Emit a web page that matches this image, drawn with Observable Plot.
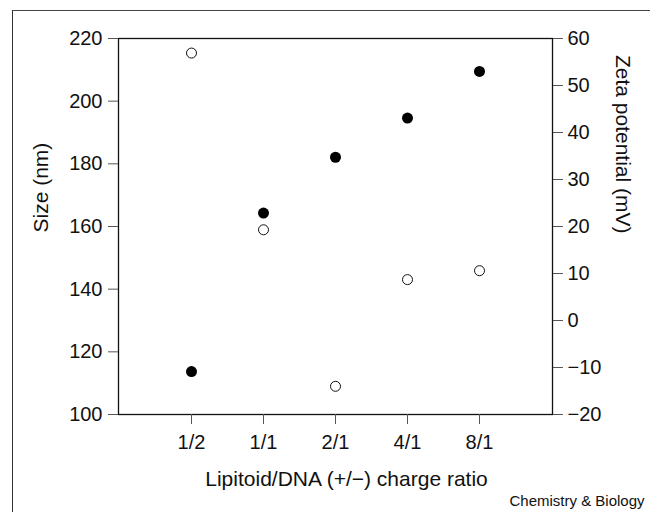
<!DOCTYPE html>
<html>
<head>
<meta charset="utf-8">
<script src="https://cdn.jsdelivr.net/npm/d3@7"></script>
<script src="https://cdn.jsdelivr.net/npm/@observablehq/plot@0.6"></script>
<style>
  html, body { margin: 0; padding: 0; background: #fff; overflow: hidden; }
  #wrap { position: relative; width: 650px; height: 512px; }
  #border { position: absolute; left: 12px; top: 10px; width: 700px; height: 600px;
            border-left: 1.5px solid #333; border-top: 1.5px solid #444; pointer-events: none; }
  svg { font-family: "Liberation Sans", Arial, Helvetica, sans-serif; }
</style>
</head>
<body>
<div id="wrap"><div id="border"></div></div>
<script>
// Data
const ratios = ["1/2", "1/1", "2/1", "4/1", "8/1"];
const sizeNm = [113.7, 164.3, 182.1, 194.6, 209.5];   // filled circles, left axis
const zetaMv = [56.9, 19.3, -14.0, 8.7, 10.6];        // open circles, right axis
const sizeTicks = [100, 120, 140, 160, 180, 200, 220];
const zetaTicks = [-20, -10, 0, 10, 20, 30, 40, 50, 60];

// map zeta (mV) onto the size scale: [-20, 60] -> [100, 220]
const zToSize = z => 100 + (z + 20) * 1.5;
const sizeToZ = s => Math.round((s - 100) / 1.5 - 20);
const fmt = v => (v < 0 ? "\u2212" + Math.abs(v) : String(v));

const sizeData = ratios.map((r, i) => ({ratio: r, value: sizeNm[i]}));
const zetaData = ratios.map((r, i) => ({ratio: r, value: zToSize(zetaMv[i])}));

const chart = Plot.plot({
  width: 650,
  height: 512,
  marginLeft: 118,
  marginRight: 98,
  marginTop: 38,
  marginBottom: 98,
  style: {fontFamily: '"Liberation Sans", Arial, Helvetica, sans-serif', fontSize: "20px", color: "#111"},
  x: {type: "point", domain: ratios, padding: 1},
  y: {domain: [100, 220]},
  marks: [
    Plot.frame({stroke: "#111", strokeWidth: 1.3}),
    Plot.axisY({ticks: sizeTicks, tickSize: 10, tickPadding: 6, label: null, fontSize: 20, stroke: "#555"}),
    Plot.axisY({anchor: "right", ticks: zetaTicks.map(zToSize), tickFormat: d => fmt(sizeToZ(d)),
                tickSize: 10, tickPadding: 5, label: null, fontSize: 20, stroke: "#555"}),
    Plot.axisX({tickSize: 10, tickPadding: 10, label: null, fontSize: 20, stroke: "#555"}),
    Plot.text(["Size (nm)"], {frameAnchor: "left", rotate: -90, dx: -77, dy: 6, fontSize: 21, fill: "#111"}),
    Plot.text(["Zeta potential (mV)"], {frameAnchor: "right", rotate: 90, dx: 70, dy: 7, fontSize: 21, fill: "#111"}),
    Plot.text(["Lipitoid/DNA (+/\u2212) charge ratio"], {frameAnchor: "bottom", dx: 11, dy: 71, fontSize: 21, fill: "#111"}),
    Plot.text(["Chemistry & Biology"], {frameAnchor: "bottom-right", dx: 92, dy: 91, textAnchor: "end", lineAnchor: "bottom", fontSize: 15, fill: "#111"}),
    Plot.dot(zetaData, {x: "ratio", y: "value", r: 5, fill: "white", stroke: "#111", strokeWidth: 1}),
    Plot.dot(sizeData, {x: "ratio", y: "value", r: 5.5, fill: "#000", stroke: "none"})
  ]
});
document.getElementById("wrap").appendChild(chart);
</script>
</body>
</html>
